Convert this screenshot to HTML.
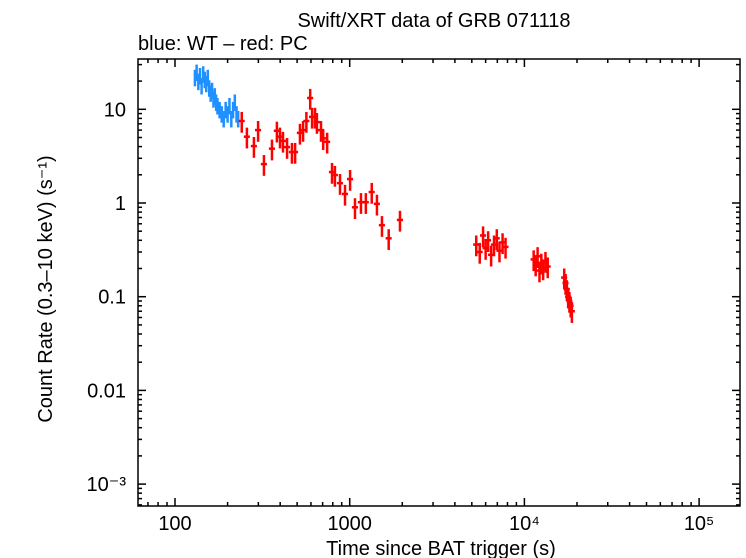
<!DOCTYPE html>
<html><head><meta charset="utf-8"><style>
body{margin:0;background:#fff}
svg{display:block;font-family:"Liberation Sans",sans-serif}
</style></head><body>
<svg id="c" width="746" height="558"></svg>
<script>
const wtTime=[130,133,136,139,142,145,148,151,154,157,160,163,166,169,172,175,180,185,190,195,200,205,210,215,220,225,230];
const wtRate=[22,25,20,23,18,24,21,19,22,17,15,16,13,14,12,11,10,9,8,10,9,11,8,10,12,9,8];
const pcTime=[241,258,283,299,323,359,383,399,415,438,467,487,519,541,565,594,609,633,649,685,705,743,792,823,880,940,1005,1072,1160,1237,1337,1432,1530,1672,1940,
5300,5550,5800,6000,6200,6450,6700,6950,7200,7500,7800,
11300,11600,11900,12200,12500,12800,13200,13600,
16900,17200,17500,17800,18100,18400,18700];
const pcRate=[7.5,5.1,4.05,6.0,2.6,3.8,5.9,5.1,4.6,3.95,3.5,3.5,5.6,6.0,7.5,13.2,8.3,8.3,7.3,6.0,4.9,4.5,2.14,1.99,1.63,1.25,1.8,0.9,1.02,1.02,1.31,0.98,0.58,0.42,0.66,
0.36,0.30,0.45,0.33,0.40,0.28,0.36,0.42,0.31,0.38,0.34,
0.25,0.22,0.27,0.19,0.23,0.20,0.24,0.21,
0.16,0.14,0.12,0.10,0.09,0.08,0.07];
const xTicks=[100,1000,10000,100000];
const xLabels=["100","1000","10⁴","10⁵"];
const yTicks=[10,1,0.1,0.01,0.001];
const yLabels=["10","1","0.1","0.01","10⁻³"];

const L=138,R=740,T=59,B=506;
const X=t=>175+(Math.log10(t)-2)*174.7;
const Y=v=>203-Math.log10(v)*93.7;
const svg=document.getElementById('c');
const NS='http://www.w3.org/2000/svg';
function mk(tag,attrs,parent){const e=document.createElementNS(NS,tag);for(const k in attrs)e.setAttribute(k,attrs[k]);(parent||svg).appendChild(e);return e;}
function txt(s,attrs){const e=mk('text',attrs);e.textContent=s;return e;}

let e;
e=txt("Swift/XRT data of GRB 071118",{x:434,y:27,'text-anchor':'middle','font-size':20});


e=txt("blue: WT – red: PC",{x:138,y:50,'font-size':20});


e=txt("Time since BAT trigger (s)",{x:441,y:555,'text-anchor':'middle','font-size':20});


e=txt("Count Rate (0.3–10 keV) (s⁻¹)",{x:52,y:289,'text-anchor':'middle','font-size':20,transform:'rotate(-90 52 289)'});



const g=mk('g',{stroke:'#000','stroke-width':1.5});


mk('rect',{x:L,y:T,width:R-L,height:B-T,fill:'none'},g);
for(let d=1;d<=5;d++){for(let m=1;m<10;m++){const t=m*Math.pow(10,d);const px=X(t);if(px<L||px>R)continue;const len=m==1?8:4;
mk('line',{x1:px,y1:B,x2:px,y2:B-len},g);mk('line',{x1:px,y1:T,x2:px,y2:T+len},g);}}
for(let d=-4;d<=2;d++){for(let m=1;m<10;m++){const v=m*Math.pow(10,d);const py=Y(v);if(py<T||py>B)continue;const len=m==1?8:4;
mk('line',{x1:L,y1:py,x2:L+len,y2:py},g);mk('line',{x1:R,y1:py,x2:R-len,y2:py},g);}}
xTicks.forEach((t,i)=>{const e=txt(xLabels[i],{x:X(t),y:530,'text-anchor':'middle','font-size':20});

});
yTicks.forEach((v,i)=>{const e=txt(yLabels[i],{x:126,y:Y(v)+7,'text-anchor':'end','font-size':20});

});

function series(times,rates,color,name,te,re){
 const sg=mk('g',{stroke:color,'stroke-width':2.5});
 
 
 times.forEach((t,i)=>{const v=rates[i];const px=X(t),py=Y(v);
  const p=mk('g',{},sg);
  
  
  mk('line',{x1:X(t*(1-te)),y1:py,x2:X(t*(1+te)),y2:py},p);
  mk('line',{x1:px,y1:Y(v*(1+re)),x2:px,y2:Y(v*(1-re))},p);});
}
series(wtTime,wtRate,'#1e90ff','wt-series',0.01,0.2);
series(pcTime,pcRate,'#ff0000','pc-series',0.04,0.25);
</script>
</body></html>
